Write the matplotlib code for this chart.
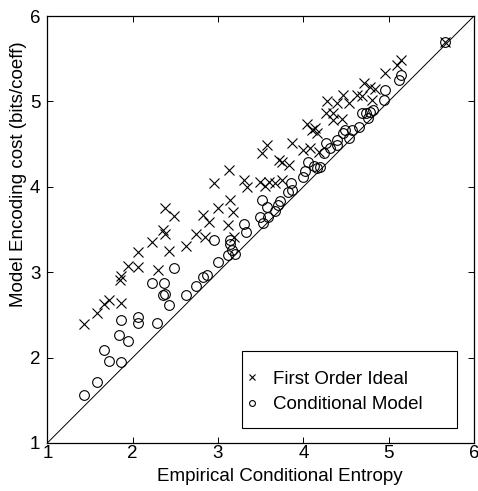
import matplotlib
matplotlib.use("Agg")
import matplotlib.pyplot as plt
from matplotlib.patches import Rectangle

plt.rcParams['font.family'] = ['Liberation Sans', 'DejaVu Sans']

# First Order Ideal (crosses)
fo_x = [1.43, 1.58, 1.66, 1.72, 1.86, 1.85, 1.86, 1.95, 2.06, 2.06, 2.23, 2.30, 2.35, 2.38,
        2.38, 2.49, 2.43, 2.63, 2.74, 2.83, 2.89, 2.85, 2.95, 3.00, 3.51, 3.72, 3.75, 3.83,
        3.13, 3.31, 3.34, 3.49, 3.55, 3.60, 3.67, 3.75, 3.14, 3.18, 3.12, 3.19, 4.71, 4.78,
        4.84, 4.47, 4.63, 4.69, 4.28, 4.39, 4.53, 4.26, 4.35, 4.35, 4.45, 4.04, 4.10, 4.14,
        4.16, 3.87, 4.00, 4.08, 4.18, 3.57, 5.66, 5.15, 5.10, 4.96, 4.80]
fo_y = [2.39, 2.52, 2.63, 2.67, 2.64, 2.91, 2.96, 3.07, 3.06, 3.24, 3.35, 3.03, 3.49, 3.45,
        3.75, 3.66, 3.25, 3.31, 3.45, 3.67, 3.59, 3.41, 4.05, 3.75, 4.40, 4.31, 4.29, 4.25,
        4.20, 4.08, 4.00, 4.06, 4.01, 4.06, 4.05, 4.08, 3.85, 3.71, 3.55, 3.41, 5.21, 5.17,
        5.15, 5.08, 5.08, 5.06, 5.00, 4.98, 4.98, 4.86, 4.86, 4.78, 4.79, 4.74, 4.67, 4.69,
        4.63, 4.51, 4.43, 4.45, 4.41, 4.49, 5.70, 5.49, 5.43, 5.33, 5.02]

# Conditional Model (circles)
cm_x = [1.43, 1.58, 1.66, 1.72, 1.86, 1.84, 1.95, 1.86, 2.06, 2.06, 2.29, 2.23, 2.37, 2.35,
        2.38, 2.43, 2.48, 2.63, 2.74, 2.83, 2.87, 2.95, 3.00, 3.85, 3.82, 3.51, 3.73, 3.70,
        3.57, 3.67, 3.59, 3.49, 3.53, 3.30, 3.33, 3.14, 3.14, 3.16, 3.12, 3.20, 4.69, 4.74,
        4.78, 4.82, 4.76, 4.65, 4.57, 4.49, 4.47, 4.53, 4.39, 4.39, 4.31, 4.26, 4.24, 4.06,
        4.12, 4.16, 4.20, 4.02, 4.00, 3.87, 5.66, 5.15, 5.12, 4.96, 4.94]
cm_y = [1.56, 1.71, 2.09, 1.96, 1.95, 2.27, 2.20, 2.44, 2.47, 2.41, 2.41, 2.87, 2.87, 2.73,
        2.75, 2.61, 3.05, 2.73, 2.84, 2.94, 2.97, 3.38, 3.12, 4.05, 3.94, 3.85, 3.83, 3.79,
        3.76, 3.72, 3.65, 3.65, 3.58, 3.57, 3.47, 3.38, 3.33, 3.26, 3.20, 3.21, 4.86, 4.86,
        4.88, 4.90, 4.80, 4.70, 4.67, 4.67, 4.63, 4.57, 4.55, 4.49, 4.45, 4.51, 4.39, 4.29,
        4.24, 4.22, 4.23, 4.18, 4.12, 3.96, 5.70, 5.31, 5.25, 5.13, 5.02]

diag = [1, 6]
ticks = [1, 2, 3, 4, 5, 6]
FS = 13.5

fig = plt.figure(figsize=(4.78, 4.91), dpi=100)
ax = fig.add_axes([0.099, 0.0978, 0.8926, 0.8696])

ax.plot(diag, diag, color='black', lw=0.7)
ax.plot(fo_x, fo_y, linestyle='none', marker='x', markersize=7.5, mew=0.8,
        color='black', label='First Order Ideal')
ax.plot(cm_x, cm_y, linestyle='none', marker='o', markersize=7, mew=0.8,
        markerfacecolor='none', markeredgecolor='black', label='Conditional Model')

ax.set_xlim(1, 6)
ax.set_ylim(1, 6)
ax.set_xticks(ticks)
ax.set_yticks(ticks)
ax.tick_params(direction='in', top=True, right=True, labelsize=FS, length=4, width=0.7)
ax.tick_params(axis='x', pad=1.5)
ax.tick_params(axis='y', pad=5)
for s in ax.spines.values():
    s.set_linewidth(0.9)

ax.set_xlabel('Empirical Conditional Entropy', fontsize=FS)
ax.xaxis.set_label_coords(0.544, -0.058)
ax.set_ylabel('Model Encoding cost (bits/coeff)', fontsize=FS)
ax.yaxis.set_label_coords(-0.047, 0.630)

# legend box drawn in axes coordinates, legend entries placed inside without frame
ax.add_patch(Rectangle((0.456, 0.035), 0.504, 0.1805, transform=ax.transAxes,
                       facecolor='white', edgecolor='black', lw=0.8, zorder=4))
leg = ax.legend(loc='upper left', bbox_to_anchor=(0.4666, 0.1695), fontsize=FS,
                frameon=False, markerscale=0.6, handlelength=0.6, handletextpad=0.82,
                borderpad=0, labelspacing=0.44, borderaxespad=0)
leg.set_zorder(5)

fig.savefig('out.png', dpi=100)
